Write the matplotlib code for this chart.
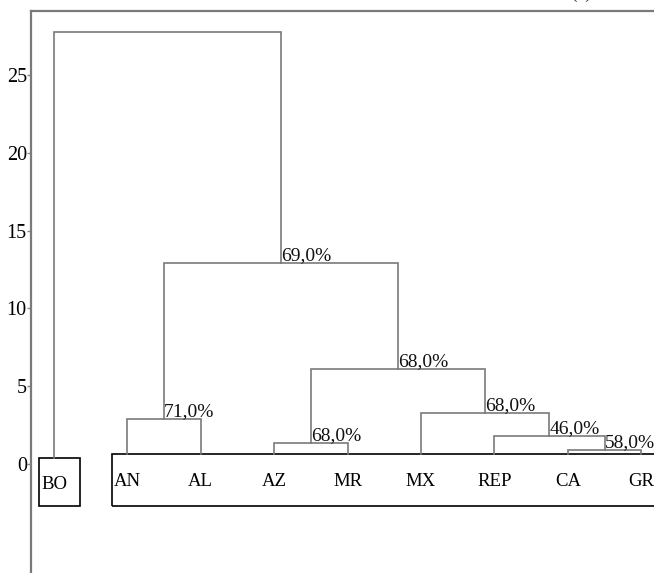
import matplotlib.pyplot as plt
from matplotlib.patches import Rectangle

# leaves in plotting order
leaves = ['BO', 'AN', 'AL', 'AZ', 'MR', 'MX', 'REP', 'CA', 'GR']

# merges: cluster ids (leaves 0-8, new clusters 9, 10, ...), height, label
merge_left = [7, 3, 6, 1, 5, 10, 12, 0]
merge_right = [8, 4, 9, 2, 11, 13, 14, 15]
merge_height = [0.92, 1.37, 1.82, 2.91, 3.30, 6.12, 12.93, 27.77]
merge_label = ['58,0%', '68,0%', '46,0%', '71,0%', '68,0%', '68,0%', '69,0%', '']

yticks = [0, 5, 10, 15, 20, 25]

plt.rcParams['font.family'] = 'Liberation Serif'

fig = plt.figure(figsize=(6.54, 5.73), dpi=100)
ax = fig.add_axes([31 / 654, 0, 623 / 654, 562 / 573])

line_color = '#7a7a7a'

# leaf lines start at the top edge of the label boxes
xpos = {i: float(i) for i in range(len(leaves))}
ypos = {i: 0.65 for i in range(len(leaves))}
ypos[0] = 0.39

for k, (a, b, h, lab) in enumerate(zip(merge_left, merge_right,
                                        merge_height, merge_label)):
    new = len(leaves) + k
    xa, xb = xpos[a], xpos[b]
    ax.plot([xa, xa, xb, xb], [ypos[a], h, h, ypos[b]],
            color=line_color, lw=1.2, solid_joinstyle='miter')
    xpos[new] = (xa + xb) / 2
    ypos[new] = h
    if lab:
        ax.text(xpos[new], h - 0.08, lab, ha='left', va='bottom',
                fontsize=14, color='#111111')

# label boxes
ax.add_patch(Rectangle((-0.204, -2.70), 0.558, 3.09, fill=False,
                       edgecolor='black', lw=1.2, clip_on=False))
ax.add_patch(Rectangle((0.79, -2.70), 8.0, 3.34, fill=False,
                       edgecolor='black', lw=1.2))
for i, name in enumerate(leaves):
    ax.text(i, -1.3 if i == 0 else -1.15, name, ha='center', va='center',
            fontsize=13.5, color='black')

ax.set_xlim(-0.313, 8.174)
ax.set_ylim(-7.0, 29.1)
ax.set_yticks(yticks)
ax.set_xticks([])
ax.tick_params(axis='y', length=3, width=1, color='#888888', pad=0,
               labelsize=14.5)
for side in ['right', 'bottom']:
    ax.spines[side].set_visible(False)
for side in ['left', 'top']:
    ax.spines[side].set_color('#7a7a7a')
    ax.spines[side].set_linewidth(1.6)

fig.text(0.872, 1.004, '(a)', fontsize=14, va='baseline', color='#333333')

fig.savefig('out.png', dpi=100)
